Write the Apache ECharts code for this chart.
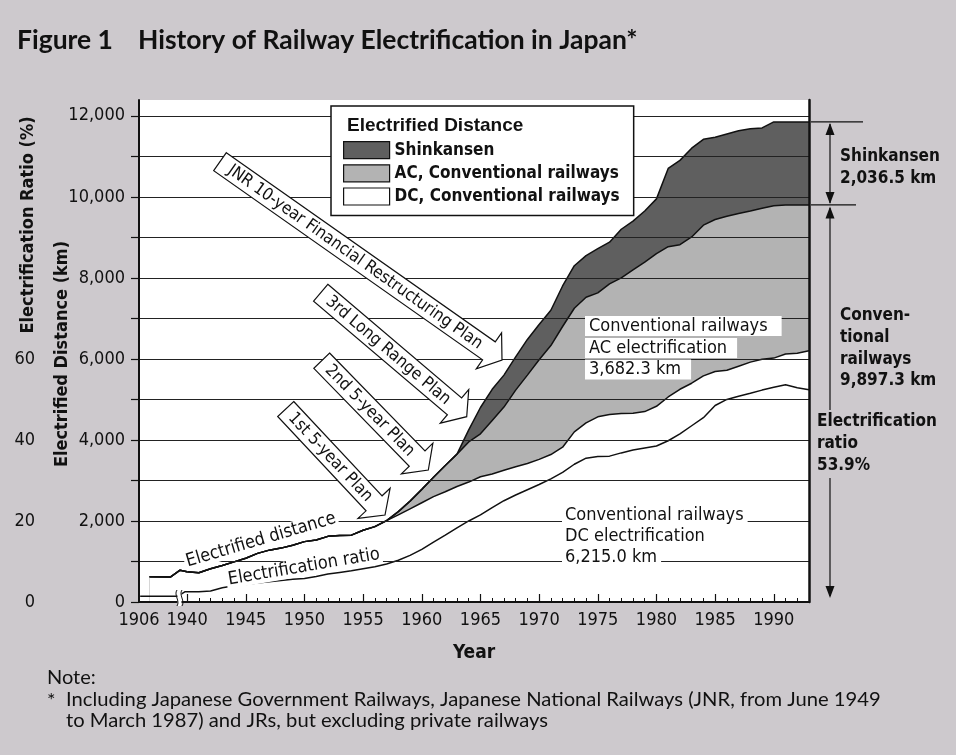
<!DOCTYPE html>
<html><head><meta charset="utf-8">
<script src="https://cdn.jsdelivr.net/npm/echarts@6/dist/echarts.min.js"></script>
<style>html,body{margin:0;padding:0;background:#cdc9cd;}#c{width:956px;height:755px;}</style>
</head><body><div id="c"></div>
<script>
// ---------------- data ----------------
const years = [1936.8, 1938.6, 1939.4, 1940, 1941, 1942, 1943, 1944, 1945, 1946, 1947, 1948, 1949,
  1950, 1951, 1952, 1953, 1954, 1955, 1956, 1957, 1958, 1959, 1960, 1961, 1962, 1963, 1964, 1965,
  1966, 1967, 1968, 1969, 1970, 1971, 1972, 1973, 1974, 1975, 1976, 1977, 1978, 1979, 1980, 1981,
  1982, 1983, 1984, 1985, 1986, 1987, 1988, 1989, 1990, 1991, 1992, 1993];
const dcKm = [625, 620, 785, 745, 720, 820, 900, 990, 1080, 1200, 1280, 1330, 1400,
  1490, 1530, 1620, 1640, 1650, 1770, 1860, 2010, 2150, 2300, 2450, 2600, 2720, 2850, 2960, 3090,
  3160, 3250, 3340, 3420, 3520, 3640, 3820, 4200, 4420, 4570, 4630, 4650, 4660, 4700, 4830, 5060,
  5250, 5400, 5580, 5690, 5720, 5820, 5920, 5990, 6020, 6120, 6140, 6200];
const acKm = [0, 0, 0, 0, 0, 0, 0, 0, 0, 0, 0, 0, 0,
  0, 0, 0, 0, 0, 0, 0, 0, 80, 190, 330, 480, 650, 800, 990, 1060,
  1320, 1560, 1890, 2180, 2460, 2690, 2980, 3050, 3100, 3060, 3220, 3350, 3540, 3690, 3770, 3710,
  3570, 3610, 3720, 3750, 3800, 3770, 3730, 3730, 3760, 3680, 3660, 3600];
const shinkansenKm = [0, 0, 0, 0, 0, 0, 0, 0, 0, 0, 0, 0, 0,
  0, 0, 0, 0, 0, 0, 0, 0, 0, 0, 0, 0, 0, 0, 300, 650,
  770, 790, 820, 880, 870, 870, 1000, 1050, 1030, 1090, 1030, 1200, 1200, 1260, 1350, 1930,
  2080, 2190, 2120, 2030, 2030, 2040, 2030, 1980, 2070, 2050, 2050, 2050];
const ratioYears = [1936, 1939.2, 1939.8, 1941, 1942, 1943, 1944, 1945, 1946, 1947, 1948, 1949,
  1950, 1951, 1952, 1953, 1954, 1955, 1956, 1957, 1958, 1959, 1960, 1961, 1962, 1963, 1964, 1965,
  1966, 1967, 1968, 1969, 1970, 1971, 1972, 1973, 1974, 1975, 1976, 1977, 1978, 1979, 1980, 1981,
  1982, 1983, 1984, 1985, 1986, 1987, 1988, 1989, 1990, 1991, 1992, 1993];
const ratioPct = [1.4, 1.4, 2.5, 2.5, 2.7, 3.5, 4.0, 4.3, 4.7, 5.0, 5.3, 5.6,
  5.8, 6.3, 6.9, 7.3, 7.7, 8.2, 8.7, 9.4, 10.3, 11.5, 13.0, 14.8, 16.5, 18.3, 20.0, 21.5,
  23.3, 25.0, 26.4, 27.7, 29.0, 30.4, 32.0, 34.0, 35.5, 35.9, 36.0, 36.8, 37.5, 38.0, 38.5, 39.8,
  41.5, 43.5, 45.5, 48.5, 50.0, 50.8, 51.5, 52.3, 53.0, 53.6, 52.9, 52.4];
const distTicks = [0, 1000, 2000, 3000, 4000, 5000, 6000, 7000, 8000, 9000, 10000, 11000, 12000];
const distLabels = [0, 2000, 4000, 6000, 8000, 10000, 12000];
const ratioLabels = [0, 20, 40, 60];
const yearMajorTicks = [1940, 1945, 1950, 1955, 1960, 1965, 1970, 1975, 1980, 1985, 1990];
const yearMinorTicks = [1941, 1942, 1943, 1944, 1946, 1947, 1948, 1949, 1951, 1952, 1953, 1954,
  1956, 1957, 1958, 1959, 1961, 1962, 1963, 1964, 1966, 1967, 1968, 1969, 1971, 1972, 1973, 1974,
  1976, 1977, 1978, 1979, 1981, 1982, 1983, 1984, 1986, 1987, 1988, 1989, 1991, 1992];
const yearLabelValues = [1935.9, 1940, 1945, 1950, 1955, 1960, 1965, 1970, 1975, 1980, 1985, 1990, 1993];
const yearLabelText = ['1906', '1940', '1945', '1950', '1955', '1960', '1965', '1970', '1975', '1980', '1985', '1990', '1995'];
const totalsLabel = {shinkansen: '2,036.5 km', conventional: '9,897.3 km', ac: '3,682.3 km', dc: '6,215.0 km', ratio: '53.9%'};

// ---------------- chart ----------------
const NARROW = "'Liberation Sans Narrow','DejaVu Sans Condensed',sans-serif";
const INK = '#111';
const chart = echarts.init(document.getElementById('c'));
const zip = (xs, ys) => xs.map((x, i) => [x, ys[i]]);
// cumulative tops (stack computed here; each area fills down to 0 and later series are drawn on top)
const acTop = dcKm.map((v, i) => v + acKm[i]);
const allTop = acTop.map((v, i) => v + shinkansenKm[i]);

const areaSeries = (name, vals, color) => ({
  type: 'line', name, data: zip(years, vals), showSymbol: false, z: 2,
  lineStyle: {color: INK, width: 1.5}, itemStyle: {color}, areaStyle: {color, opacity: 1, origin: 'start'},
  emphasis: {disabled: true}
});

chart.setOption({
  backgroundColor: '#cdc9cd',
  animation: false,
  grid: {left: 139, right: 147, top: 100, bottom: 153, show: true, backgroundColor: '#fff', borderWidth: 0},
  legend: {
    left: 331, top: 106, orient: 'vertical',
    data: ['Shinkansen', 'AC, Conventional railways', 'DC, Conventional railways'],
    icon: 'rect', itemWidth: 46, itemHeight: 17, itemGap: 5,
    backgroundColor: '#fff', borderColor: INK, borderWidth: 1.5, borderRadius: 0,
    padding: [35, 14, 10, 12], selectedMode: false, z: 6,
    itemStyle: {borderColor: INK, borderWidth: 1.2},
    textStyle: {fontFamily: NARROW, fontSize: 17, fontWeight: 'bold', color: INK}
  },
  xAxis: [{
    type: 'value', min: 1935.9, max: 1993, position: 'bottom', z: 3,
    axisLine: {show: true, onZero: false, lineStyle: {color: INK, width: 2}},
    axisTick: {show: true, inside: true, length: 8, customValues: yearMajorTicks, lineStyle: {color: INK, width: 1.2}},
    axisLabel: {customValues: yearLabelValues, margin: 9, color: INK, fontFamily: NARROW, fontSize: 18,
      formatter: v => yearLabelText[yearLabelValues.findIndex(u => Math.abs(u - v) < 0.05)] || ''},
    splitLine: {show: false},
    name: 'Year', nameLocation: 'middle', nameGap: 42,
    nameTextStyle: {fontFamily: NARROW, fontSize: 19, fontWeight: 'bold', color: INK}
  }, {
    type: 'value', min: 1935.9, max: 1993, position: 'bottom', z: 3,
    axisLine: {show: false},
    axisTick: {show: true, inside: true, length: 4, customValues: yearMinorTicks, lineStyle: {color: INK, width: 1}},
    axisLabel: {show: false}, splitLine: {show: false}
  }],
  yAxis: [{
    type: 'value', min: 0, max: 12390, position: 'left', z: 3,
    axisLine: {show: true, lineStyle: {color: INK, width: 2}},
    axisTick: {show: true, length: 8, customValues: distTicks, lineStyle: {color: INK, width: 1.2}},
    axisLabel: {customValues: distLabels, margin: 14, color: INK, fontFamily: NARROW, fontSize: 18,
      formatter: v => v.toLocaleString('en-US')},
    splitLine: {show: true, lineStyle: {color: '#222', width: 1}}
  }, {
    type: 'value', min: 0, max: 123.9, position: 'left', offset: 96, z: 3,
    axisLine: {show: false}, axisTick: {show: false},
    axisLabel: {customValues: ratioLabels, margin: 8, color: INK, fontFamily: NARROW, fontSize: 18},
    splitLine: {show: false}
  }, {
    type: 'value', min: 0, max: 12390, position: 'right', z: 3,
    axisLine: {show: true, lineStyle: {color: INK, width: 2.5}},
    axisTick: {show: false}, axisLabel: {show: false}, splitLine: {show: false}
  }],
  series: [
    areaSeries('Shinkansen', allTop, '#5f5f5f'),
    areaSeries('AC, Conventional railways', acTop, '#b3b3b3'),
    areaSeries('DC, Conventional railways', dcKm, '#ffffff'),
    {type: 'line', name: 'Electrification ratio', yAxisIndex: 1, data: zip(ratioYears, ratioPct),
      showSymbol: false, z: 2, lineStyle: {color: INK, width: 1.5}, emphasis: {disabled: true}}
  ]
});

// ---------------- annotations ----------------
const px = v => chart.convertToPixel({yAxisIndex: 0}, v);
const pxX = v => chart.convertToPixel({xAxisIndex: 0}, v);
const last = years.length - 1;
const yConv = px(acTop[last]);
const yTop = px(allTop[last]);
const yBase = px(0);

function txt(text, x, y, opt = {}) {
  return {type: 'text', x, y, z: 100, rotation: opt.rotation || 0, scaleX: opt.scaleX || 1,
    style: Object.assign({text, fill: INK, font: opt.font || `18px ${NARROW}`,
      align: opt.align || 'left', verticalAlign: 'middle'}, opt.style || {})};
}
function arrow(tail, tip, label) {
  const dx = tip[0] - tail[0], dy = tip[1] - tail[1];
  const L = Math.hypot(dx, dy), a = Math.atan2(dy, dx);
  const h = 11, hl = 16, hw = 22;
  return {type: 'group', x: tail[0], y: tail[1], rotation: -a, z: 50, children: [
    {type: 'polygon', z: 50, shape: {points: [[0, -h], [L - hl, -h], [L - hl, -hw], [L, 0], [L - hl, hw], [L - hl, h], [0, h]]},
      style: {fill: '#fff', stroke: INK, lineWidth: 1.2}},
    {type: 'text', z: 51, x: (L - hl) / 2 + 1, y: 0.5, style: {text: label, font: `17px ${NARROW}`, fill: INK, align: 'center', verticalAlign: 'middle'}}
  ]};
}
const line = (x1, y1, x2, y2, w = 1.2) => ({type: 'line', z: 100, shape: {x1, y1, x2, y2}, style: {stroke: INK, lineWidth: w}});
const head = (x, y, dir) => ({type: 'polygon', z: 100, shape: {points: [[x, y], [x - 4.5, y + 12 * dir], [x + 4.5, y + 12 * dir]]}, style: {fill: INK}});

const xA = 830;
const bx = pxX(1939.35);
const RB = `bold 17px ${NARROW}`;
const g = [
  // title
  txt('Figure 1', 17, 40, {font: 'bold 27px Lato', scaleX: 0.98}),
  txt('History of Railway Electrification in Japan*', 138, 40, {font: 'bold 27px Lato', scaleX: 0.98}),
  // axis titles
  txt('Electrification Ratio (%)', 28, 225, {font: `bold 18px ${NARROW}`, align: 'center', rotation: Math.PI / 2}),
  txt('Electrified Distance (km)', 62, 354, {font: `bold 18px ${NARROW}`, align: 'center', rotation: Math.PI / 2}),
  // legend title
  txt('Electrified Distance', 347, 126, {font: 'bold 19px "Liberation Sans", Arial, sans-serif'}),
  // plan arrows
  arrow([220, 161.7], [502, 360], 'JNR 10-year Financial Restructuring Plan'),
  arrow([320.7, 292.7], [466.7, 416.7], '3rd Long Range Plan'),
  arrow([321.7, 360.7], [428.3, 470], '2nd 5-year Plan'),
  arrow([285.7, 409], [385, 515], '1st 5-year Plan'),
  // line labels
  txt('Electrified distance', 261, 540, {align: 'center', rotation: 16.4 * Math.PI / 180, style: {backgroundColor: '#fff', padding: [0, 2]}}),
  txt('Electrification ratio', 304, 567, {align: 'center', rotation: 9.6 * Math.PI / 180, style: {backgroundColor: '#fff', padding: [0, 2]}}),
  // AC label
  txt('Conventional railways', 585, 326, {style: {backgroundColor: '#fff', padding: [1, 14, 1, 4]}}),
  txt('AC electrification', 585, 348, {style: {backgroundColor: '#fff', padding: [1, 10, 1, 4]}}),
  txt(totalsLabel.ac, 585, 369.5, {style: {backgroundColor: '#fff', padding: [1, 10, 1, 4]}}),
  // DC label
  txt('Conventional railways', 562, 515, {style: {backgroundColor: '#fff', padding: [1, 4, 1, 3]}}),
  txt('DC electrification', 562, 536.5, {style: {backgroundColor: '#fff', padding: [1, 4, 1, 3]}}),
  txt(totalsLabel.dc, 562, 557.5, {style: {backgroundColor: '#fff', padding: [1, 4, 1, 3]}}),
  // right side
  line(811, yTop, 863, yTop), line(811, yConv, 856, yConv),
  line(xA, yTop + 2, xA, yConv - 2), head(xA, yTop + 1, 1), head(xA, yConv - 1, -1),
  head(xA, yConv + 1.5, 1), line(xA, yConv + 3, xA, 410), line(xA, 478, xA, yBase - 6), head(xA, yBase - 4, -1),
  txt('Shinkansen', 840, 157, {font: RB}),
  txt(totalsLabel.shinkansen, 840, 179, {font: RB}),
  txt('Conven-', 840, 316, {font: RB}),
  txt('tional', 840, 338, {font: RB}),
  txt('railways', 840, 359.5, {font: RB}),
  txt(totalsLabel.conventional, 840, 381, {font: RB}),
  txt('Electrification', 817, 421.5, {font: RB}),
  txt('ratio', 817, 443.5, {font: RB}),
  txt(totalsLabel.ratio, 817, 466, {font: RB}),
  // break symbol
  {type: 'rect', z: 100, shape: {x: bx - 2, y: yBase - 12, width: 4, height: 16}, style: {fill: '#fff'}},
  {type: 'bezierCurve', z: 100, shape: {x1: bx - 2.5, y1: yBase - 12, cpx1: bx - 6, cpy1: yBase - 7, cpx2: bx + 1, cpy2: yBase - 1, x2: bx - 2.5, y2: yBase + 4}, style: {stroke: INK, lineWidth: 1, fill: null}},
  {type: 'bezierCurve', z: 100, shape: {x1: bx + 2.5, y1: yBase - 12, cpx1: bx - 1, cpy1: yBase - 7, cpx2: bx + 6, cpy2: yBase - 1, x2: bx + 2.5, y2: yBase + 4}, style: {stroke: INK, lineWidth: 1, fill: null}},
  // note
  txt('Note:', 47, 678, {font: '20px Lato'}),
  txt('*', 47, 701, {font: '20px Lato'}),
  txt('Including Japanese Government Railways, Japanese National Railways (JNR, from June 1949', 66, 700, {font: '20px Lato', scaleX: 1.01}),
  txt('to March 1987) and JRs, but excluding private railways', 66, 721, {font: '20px Lato', scaleX: 1.01})
];
chart.setOption({graphic: g});
</script></body></html>
